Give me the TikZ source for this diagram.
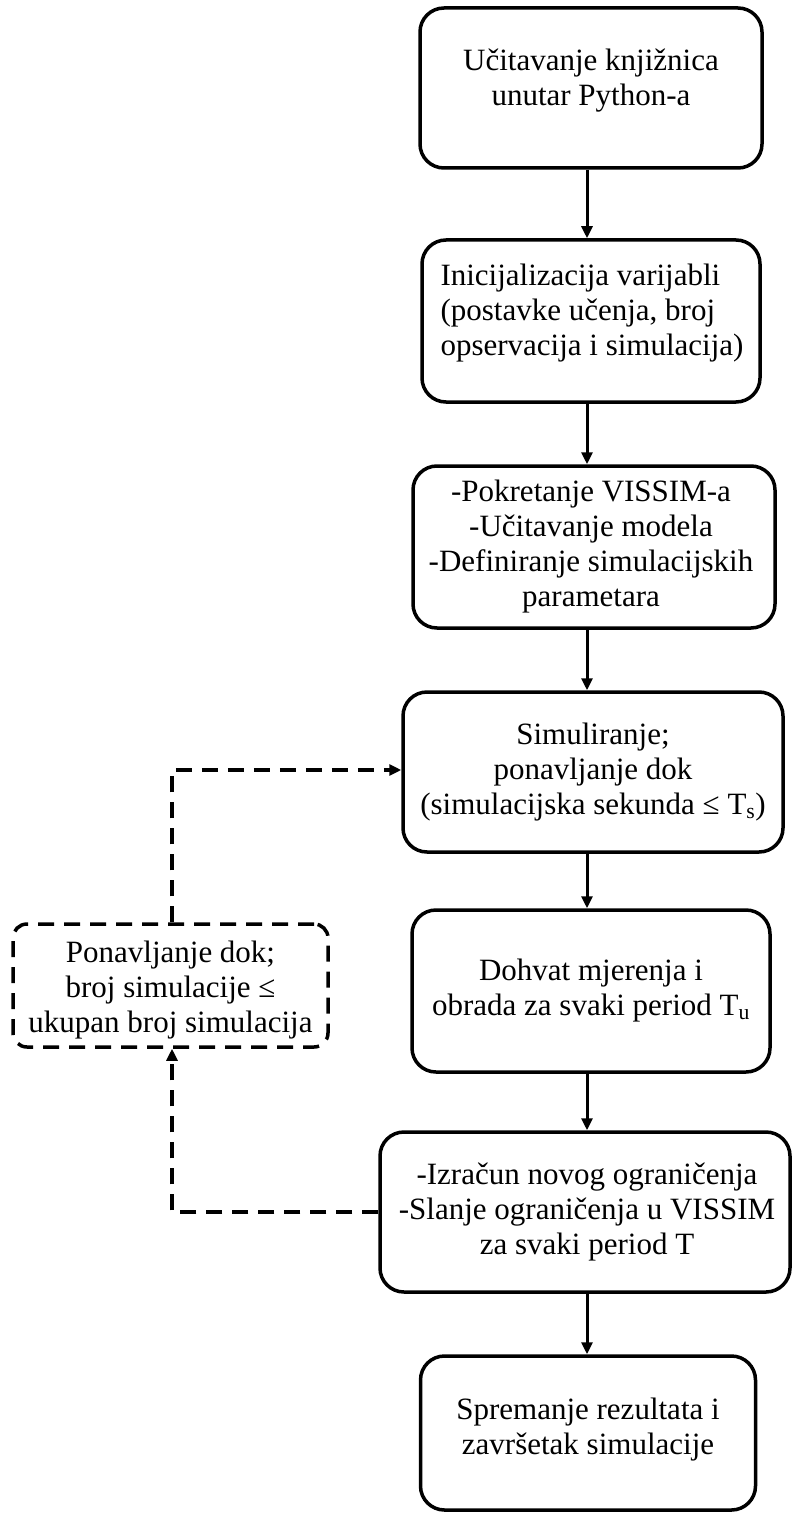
\documentclass[tikz,border=0pt]{standalone}
\usepackage{fontspec}
\setmainfont{Liberation Serif}
\usetikzlibrary{arrows.meta}
\tikzset{
  box/.style={draw, line width=3.5pt, rounded corners=24pt, inner sep=0pt},
  dbox/.style={draw, line width=3.5pt, rounded corners=14pt, inner sep=0pt, dash pattern=on 16pt off 10pt},
  txt/.style={align=center, inner sep=0pt, font=\fontsize{31}{35}\selectfont},
  arr/.style={line width=3pt, -{Triangle[length=12pt,width=11pt]}},
  darr/.style={line width=3.5pt, dash pattern=on 16pt off 10pt, -{Triangle[length=12pt,width=11pt]}}
}
\begin{document}
\begin{tikzpicture}[x=1pt,y=-1pt]
\useasboundingbox (0,0) rectangle (793,1514);
% boxes
\node[box, minimum width=342pt, minimum height=160pt] (b1) at (591,88) {};
\node[txt] (t1) at (591,81) {Učitavanje knjižnica\\unutar Python-a};
\node[box, minimum width=338pt, minimum height=162pt] (b2) at (591,321) {};
\node[txt, align=left] (t2) at (592,313) {Inicijalizacija varijabli\\(postavke učenja, broj\\opservacija i simulacija)};
\node[box, minimum width=362pt, minimum height=162pt] (b3) at (594,547) {};
\node[txt] (t3) at (591,547) {-Pokretanje VISSIM-a\\-Učitavanje modela\\-Definiranje simulacijskih\\parametara};
\node[box, minimum width=380pt, minimum height=160pt] (b4) at (593,772) {};
\node[txt] (t4) at (593,772) {Simuliranje;\\ponavljanje dok\\(simulacijska sekunda ≤ T\textsubscript{s})};
\node[box, minimum width=358pt, minimum height=162pt] (b5) at (591,991) {};
\node[txt] (t5) at (591,991) {Dohvat mjerenja i\\obrada za svaki period T\textsubscript{u}};
\node[box, minimum width=410pt, minimum height=160pt] (b6) at (585,1212) {};
\node[txt] (t6) at (587,1212) {-Izračun novog ograničenja\\-Slanje ograničenja u VISSIM\\za svaki period T};
\node[box, minimum width=335pt, minimum height=154pt] (b7) at (588,1433) {};
\node[txt] (t7) at (588,1430) {Spremanje rezultata i\\završetak simulacije};
% dashed box
\node[dbox, minimum width=315pt, minimum height=123pt] (db) at (170.5,985.5) {};
\node[txt] (tdb) at (170.5,990) {Ponavljanje dok;\\broj simulacije ≤\\ukupan broj simulacija};
% connectors
\coordinate (ax) at (587,0);
\draw[arr] (b1.south -| ax) -- (b2.north -| ax);
\draw[arr] (b2.south -| ax) -- (b3.north -| ax);
\draw[arr] (b3.south -| ax) -- (b4.north -| ax);
\draw[arr] (b4.south -| ax) -- (b5.north -| ax);
\draw[arr] (b5.south -| ax) -- (b6.north -| ax);
\draw[arr] (b6.south -| ax) -- (b7.north -| ax);
\coordinate (lp) at (172,770);
\draw[darr] (db.north -| lp) -- (lp) -- (b4.west |- lp);
\draw[darr] (b6.west) -| (db.south -| lp);
\end{tikzpicture}
\end{document}
